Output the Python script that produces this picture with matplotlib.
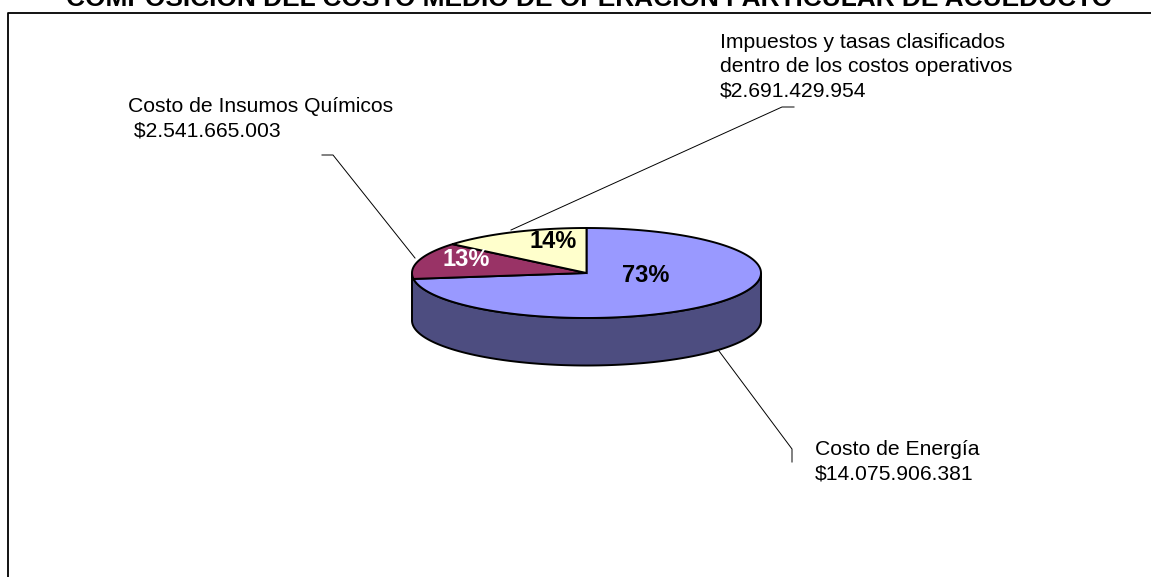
import numpy as np
import matplotlib
matplotlib.use("Agg")
import matplotlib.pyplot as plt
from matplotlib.patches import Polygon

TITLE = "COMPOSICIÓN DEL COSTO MEDIO DE OPERACIÓN PARTICULAR DE ACUEDUCTO"
category_lines = [
    ["Costo de Energía"],
    ["Costo de Insumos Químicos"],
    ["Impuestos y tasas clasificados", "dentro de los costos operativos"],
]
values = [14075906381, 2541665003, 2691429954]
percent_labels = ["73%", "13%", "14%"]
value_labels = ["$14.075.906.381", " $2.541.665.003", "$2.691.429.954"]
top_colors = ["#9999FF", "#993366", "#FFFFCC"]
side_color = "#4D4D80"
label_colors = ["black", "white", "black"]

W, H = 1151, 577
plt.rcParams["font.family"] = ["Liberation Sans", "DejaVu Sans"]
fig = plt.figure(figsize=(W / 100, H / 100), dpi=100, facecolor="white")
ax = fig.add_axes([0, 0, 1, 1])
ax.set_xlim(0, W)
ax.set_ylim(H, 0)
ax.axis("off")

# Projected pie: an ellipse for the top face, extruded downward for the rim
CX, CY, RX, RY, DEPTH = 586.5, 273.0, 174.5, 45.0, 47.5


def rim(theta):
    return CX + RX * np.sin(theta), CY - RY * np.cos(theta)


fractions = np.array(values, dtype=float) / sum(values)
edges = 2 * np.pi * np.concatenate([[0], np.cumsum(fractions)])

# Frame running off the right and bottom of the canvas
ax.plot([8, 8, W + 5], [H + 5, 13.3, 13.3], color="black", lw=1.3, zorder=1)

# Side wall: visible only for the front half, from the right extreme to the left
t = np.linspace(np.pi / 2, 3 * np.pi / 2, 200)
x, y = rim(t)
wall = np.column_stack([np.r_[x, x[::-1]], np.r_[y, y[::-1] + DEPTH]])
ax.add_patch(Polygon(wall, closed=True, facecolor=side_color, edgecolor="black",
                     lw=1.4, zorder=2))

# Top face wedges
for start, stop, color in zip(edges[:-1], edges[1:], top_colors):
    t = np.linspace(start, stop, 200)
    x, y = rim(t)
    pts = np.column_stack([np.r_[CX, x], np.r_[CY, y]])
    ax.add_patch(Polygon(pts, closed=True, facecolor=color, edgecolor="black",
                         lw=1.4, zorder=3))

# Percent labels on the top face
pct_pos = [(646, 276), (466, 260), (553, 241.5)]
for (px, py), text, color in zip(pct_pos, percent_labels, label_colors):
    ax.text(px, py, text, color=color, fontsize=17, fontweight="bold",
            ha="center", va="center", zorder=5)

# Leader lines with their short elbows
leaders = [
    ([719, 792, 792], [351, 449, 462]),
    ([415, 333, 322], [258, 155, 155]),
    ([511, 782, 794], [230, 107, 107]),
]
for lx, ly in leaders:
    ax.plot(lx, ly, color="black", lw=0.7, zorder=1.5)

# Category annotations: left edge and first baseline of each block
anchors = [(815, 455), (128, 112), (720, 48)]
LINE_STEP = 24.5
for (nx, ny), lines, value in zip(anchors, category_lines, value_labels):
    for i, line in enumerate(lines + [value]):
        ax.text(nx, ny + i * LINE_STEP, line, fontsize=15.2, color="black",
                ha="left", va="baseline", zorder=6)

# Title, cut by the top of the canvas
ax.text(589.5, 6.5, TITLE, fontsize=18.95, fontweight="bold", color="black",
        ha="center", va="baseline", zorder=6)

fig.savefig("out.png", dpi=100, facecolor="white")
